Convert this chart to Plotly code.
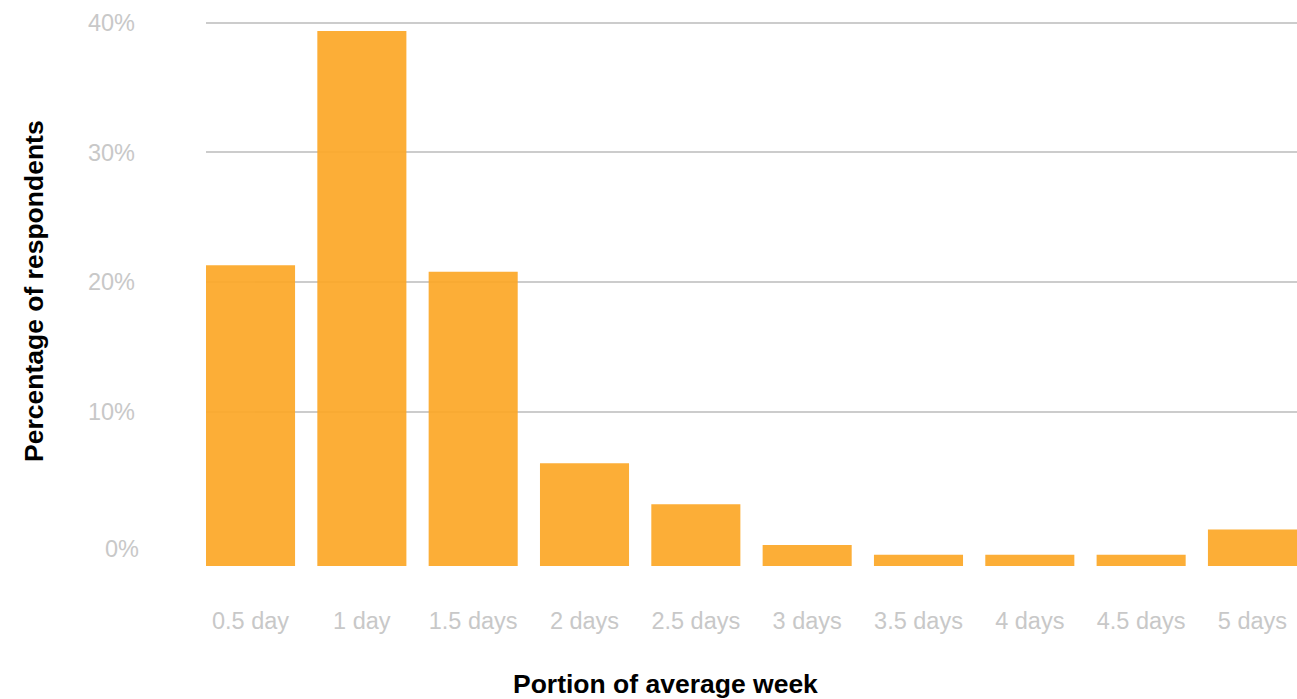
import plotly.graph_objects as go

categories = ["0.5 day", "1 day", "1.5 days", "2 days", "2.5 days",
              "3 days", "3.5 days", "4 days", "4.5 days", "5 days"]
# percentage of respondents, read against the gridline scale
values = [21.3, 39.35, 20.8, 6.05, 2.9, -0.25, -1.0, -1.0, -1.0, 0.95]
y_ticks = [10, 20, 30, 40]
y_tick_text = ["10%", "20%", "30%", "40%"]

Y_FLOOR = -1.86
Y_TOP = 40.12

# bars grow from the bottom of the plot area (Plotly's y is length when base is set)
bar_lengths = [v - Y_FLOOR for v in values]

fig = go.Figure()
fig.add_trace(go.Bar(
    x=categories, y=bar_lengths, base=Y_FLOOR,
    marker=dict(color="rgb(252,168,40)", line=dict(width=0)),
    opacity=0.93, width=0.8, hoverinfo="skip",
))

FONT = "Liberation Sans, Arial, Helvetica, sans-serif"
tick_font = dict(family=FONT, size=23.5, color="#c8c8c8")
title_font = dict(family=FONT, size=26.5, color="#000000")

PL, PR, PT, PB = 206, 1297, 21, 566
W, H = PR - PL, PB - PT

fig.update_layout(
    width=1297, height=699,
    margin=dict(l=PL, r=1297 - PR, t=PT, b=699 - PB),
    paper_bgcolor="white", plot_bgcolor="white",
    showlegend=False,
    xaxis=dict(
        type="category", range=[-0.4, 9.4], showgrid=False, zeroline=False,
        showline=False, ticks="", tickfont=tick_font, ticklabelstandoff=38,
        fixedrange=True,
    ),
    yaxis=dict(
        range=[Y_FLOOR, Y_TOP], tickvals=y_ticks, ticktext=y_tick_text,
        showgrid=True, gridcolor="#cccccc", gridwidth=2, zeroline=False,
        showline=False, ticks="", tickfont=tick_font, ticklabelstandoff=70,
        fixedrange=True,
    ),
    annotations=[
        dict(text="0%", x=0, xref="paper", xanchor="right", xshift=-65,
             y=-0.55, yref="y", yanchor="middle", showarrow=False, font=tick_font),
        dict(text="<b>Portion of average week</b>", x=(665 - PL) / W, xref="paper",
             xanchor="center", y=-(684 - PB) / H, yref="paper", yanchor="middle",
             showarrow=False, font=title_font),
        dict(text="<b>Percentage of respondents</b>", x=-(PL - 34) / W, xref="paper",
             xanchor="center", y=(PB - 291) / H, yref="paper", yanchor="middle",
             textangle=-90, showarrow=False, font=title_font),
    ],
)

fig.write_html("out.html", config={"displayModeBar": False})
